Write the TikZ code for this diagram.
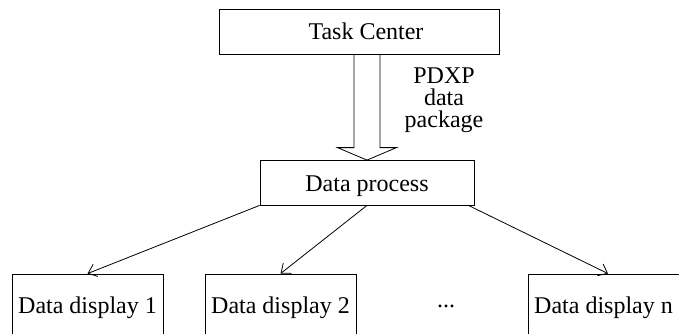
\documentclass[tikz,border=0pt]{standalone}
\usepackage{fontspec}
\setmainfont{Liberation Serif}
\usetikzlibrary{arrows.meta}
\begin{document}
\begin{tikzpicture}[x=1pt,y=1pt,
  line width=0.8pt,
  every node/.style={font=\fontsize{24}{21}\selectfont},
  box/.style={draw, rectangle, inner sep=0pt, text height=16.5pt, text depth=0pt},
  conn/.style={-{Straight Barb[length=8pt,width=13pt,line width=0.8pt]}},
  hollow/.style={draw, line join=miter}]
\useasboundingbox (0,0) rectangle (679,-334);
\clip (0,0) rectangle (679,-334);
% boxes
\node[box, minimum width=280pt, minimum height=45pt] (tc) at (359,-31.5) {\hspace*{14pt}Task Center};
\node[box, minimum width=214pt, minimum height=44.5pt] (dp) at (367,-182.75) {Data process};
\node[box, minimum width=151pt, minimum height=61.5pt] (d1) at (87.5,-304.75) {Data display 1};
\node[box, minimum width=151pt, minimum height=61.5pt] (d2) at (280.5,-304.75) {Data display 2};
\node[box, minimum width=151pt, minimum height=61.5pt] (dn) at (603.5,-304.75) {Data display n};
\node[anchor=base] (dots) at (446,-307) {...};
% hollow arrow
\coordinate (hs) at (tc.south -| dp.north);
\draw[hollow] ([xshift=-13pt]hs) -- ([xshift=-13pt,yshift=12.5pt]dp.north)
  -- ([xshift=-29.5pt,yshift=12.5pt]dp.north) -- (dp.north)
  -- ([xshift=29.5pt,yshift=12.5pt]dp.north) -- ([xshift=13pt,yshift=12.5pt]dp.north)
  -- ([xshift=13pt]hs);
\node[align=center, anchor=base, font=\fontsize{24}{22}\selectfont] (lbl) at (444,-128) {PDXP\\data\\package};
% connectors
\draw[conn] (dp.south west) -- (d1.north);
\draw[conn] (dp.south) -- (d2.north);
\draw[conn] ([xshift=-6pt]dp.south east) -- ([xshift=4.5pt]dn.north);
\end{tikzpicture}
\end{document}
